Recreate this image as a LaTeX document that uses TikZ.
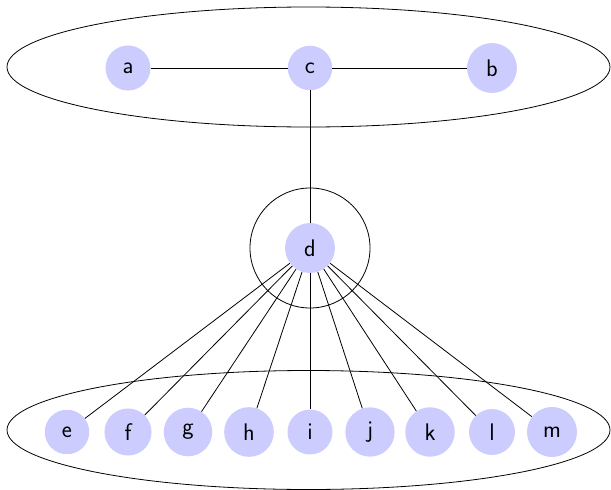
\documentclass[tikz,border=0pt]{standalone}
\begin{document}
\begin{tikzpicture}[x=1pt,y=-1pt,
  vtx/.style={circle,fill=blue!20,inner sep=10.5pt,font=\sffamily\fontsize{24}{28}\selectfont},
  group/.style={draw,line width=0.8pt},
  edge/.style={draw,line width=0.8pt}]
\useasboundingbox (0,0) rectangle (611,490);
\draw[group] (308.5,67) ellipse [x radius=301.5, y radius=60];
\draw[group] (308.5,430) ellipse [x radius=301.5, y radius=59.5];
\draw[group] (310,248) circle [radius=60];
\node[vtx] (a) at (128,68) {a};
\node[vtx] (c) at (310,68) {c};
\node[vtx] (b) at (492,68) {b};
\node[vtx] (d) at (310,248) {d};
\node[vtx] (e) at (67,432) {e};
\node[vtx] (f) at (128,432) {f};
\node[vtx] (g) at (188,432) {g};
\node[vtx] (h) at (249,432) {h};
\node[vtx] (i) at (310,432) {i};
\node[vtx] (j) at (370,432) {j};
\node[vtx] (k) at (430,432) {k};
\node[vtx] (l) at (492,432) {l};
\node[vtx] (m) at (552,432) {m};
\draw[edge] (a) -- (c);
\draw[edge] (c) -- (b);
\draw[edge] (c) -- (d);
\foreach \t in {e,f,g,h,i,j,k,l,m} \draw[edge] (d) -- (\t);
\end{tikzpicture}
\end{document}
